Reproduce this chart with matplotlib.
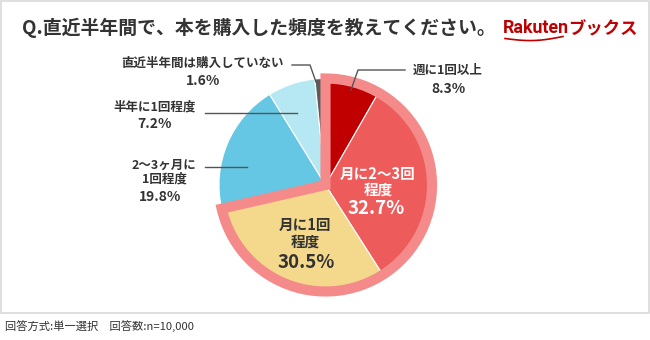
import matplotlib.pyplot as plt
import numpy as np
from matplotlib.patches import Wedge, Rectangle

plt.rcParams['font.family'] = ['Noto Sans CJK JP', 'DejaVu Sans']

# survey answers, clockwise from 12 o'clock
labels = ['週に1回以上', '月に2～3回\n程度', '月に1回\n程度', '2～3ヶ月に\n1回程度', '半年に1回程度', '直近半年間は購入していない']
shares = [8.3, 32.7, 30.5, 19.8, 7.2, 1.6]
colors = ['#c00000', '#ee5b5b', '#f4d88b', '#66c7e4', '#b5e8f3', '#5a5a5a']
highlight_n = 3  # first three answers are outlined together

title = 'Q.直近半年間で、本を購入した頻度を教えてください。'
note = '回答方式:単一選択　回答数:n=10,000'

W, H = 650, 340
fig = plt.figure(figsize=(W / 100, H / 100), dpi=100)
ax = fig.add_axes([0, 0, 1, 1])

cx, cy, R = 325.5, 185, 106.5

# y axis runs downward, so counterclockwise in data is clockwise on screen
ax.pie(shares, colors=colors, startangle=270, counterclock=True,
       center=(cx, cy), radius=R,
       wedgeprops=dict(edgecolor='white', linewidth=0.8))

span = sum(shares[:highlight_n]) / sum(shares) * 360
ring = Wedge((cx, cy), R, -90, -90 + span, facecolor='none',
             edgecolor='#f58a8a', linewidth=7.3, joinstyle='miter', zorder=5)
ax.add_patch(ring)

ax.set_xlim(0, W)
ax.set_ylim(H, 0)
ax.set_aspect('equal')
ax.axis('off')

# frame
ax.add_patch(Rectangle((1, 1), W - 2, 312, facecolor='none', edgecolor='#d9d9d9', linewidth=1.2))

dark = '#333333'
ax.text(22, 28, title, fontsize=13.6, fontweight='bold', color=dark, va='center', ha='left')

# logo
ax.text(503, 28, 'Rakuten', fontsize=12.8, fontweight='bold', color='#bf0000', va='center', ha='left',
        family=['Roboto', 'DejaVu Sans'])
ax.text(568, 29, 'ブックス', fontsize=12.5, fontweight='bold', color='#bf0000', va='center', ha='left')
t = np.linspace(0, 1, 30)
ax.plot(505 + 58 * t, 38.5 + 3 * np.sin(np.pi * t) - 2 * t, color='#bf0000', linewidth=1.2)


def label_lines(x, ys, lines, size, color, weight='bold'):
    for y, s in zip(ys, lines):
        ax.text(x, y, s, fontsize=size, fontweight=weight, color=color, ha='center', va='center')


# inside labels
label_lines(378, [174, 190], labels[1].split('\n'), 10.5, 'white')
label_lines(376, [208], [f'{shares[1]}%'], 13.5, 'white')
label_lines(305, [225, 242], labels[2].split('\n'), 10.5, dark)
label_lines(306, [263], [f'{shares[2]}%'], 13.5, dark)

# outside labels with leader lines
lc = '#555555'
ax.plot([351, 358, 405], [90, 70, 70], color=lc, linewidth=1, zorder=6)
label_lines(448, [70], [labels[0]], 9, dark)
label_lines(448, [89], [f'{shares[0]}%'], 10, dark)

ax.plot([292, 310, 316], [65, 65, 82], color=lc, linewidth=1, zorder=6)
label_lines(202, [63], [labels[5]], 9, dark)
label_lines(203, [81], [f'{shares[5]}%'], 10, dark)

ax.plot([205, 297], [113, 113], color=lc, linewidth=1, zorder=6)
label_lines(155, [107], [labels[4]], 9, dark)
label_lines(155, [124], [f'{shares[4]}%'], 10, dark)

ax.plot([205, 247], [167, 167], color=lc, linewidth=1, zorder=6)
label_lines(164, [165, 179], labels[3].split('\n'), 9, dark)
label_lines(160, [197], [f'{shares[3]}%'], 10, dark)

ax.text(5, 326, note, fontsize=8.1, color=dark, ha='left', va='center')

fig.savefig('out.png', dpi=100)
